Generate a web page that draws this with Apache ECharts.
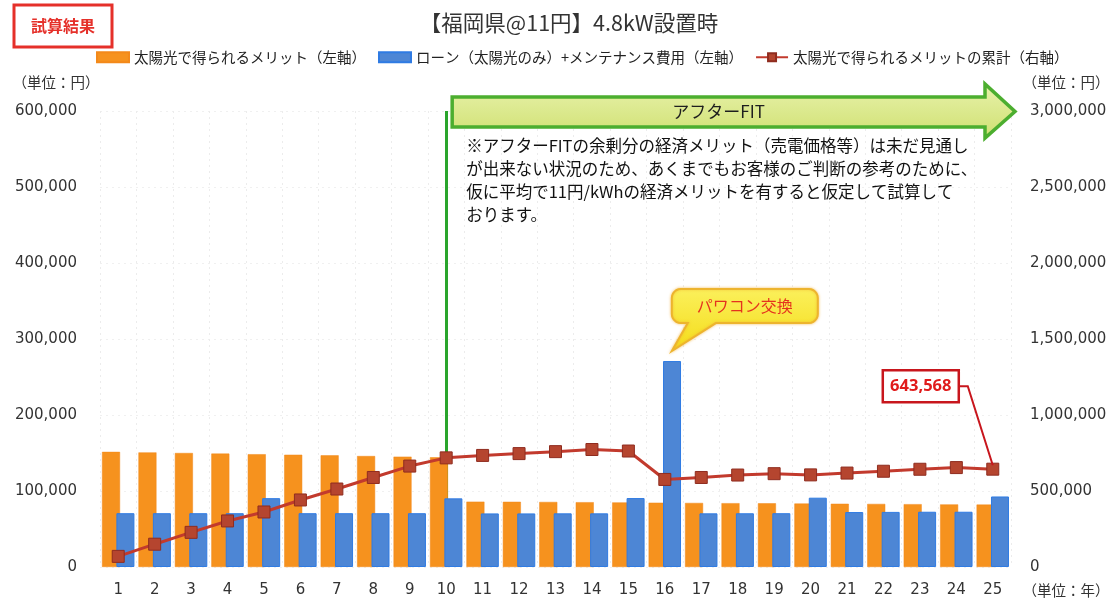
<!DOCTYPE html>
<html>
<head>
<meta charset="utf-8">
<script src="https://cdn.jsdelivr.net/npm/echarts@6/dist/echarts.min.js"></script>
<style>
  html, body { margin: 0; padding: 0; background: #ffffff; }
  #chart { width: 1110px; height: 598px; }
</style>
</head>
<body>
<div id="chart"></div>
<script>
// Year of operation (x axis)
const years = ['1','2','3','4','5','6','7','8','9','10','11','12','13','14','15','16','17','18','19','20','21','22','23','24','25'];

// Yearly benefit from solar power (left axis, yen)
const meritValues = [151500, 150800, 150000, 149200, 148400, 147700, 146900, 146000, 145200, 144400,
                     86000, 85800, 85600, 85300, 85000, 84600, 84300, 84000, 83800, 83500,
                     83200, 83000, 82700, 82400, 82100];

// Loan (solar only) + maintenance cost (left axis, yen)
const loanValues = [70800, 70800, 70800, 70800, 90600, 70800, 70800, 70800, 70800, 90300,
                    70500, 70500, 70600, 70600, 90700, 271000, 70600, 70700, 70800, 91200,
                    72300, 72500, 72700, 72700, 92800];

// Cumulative benefit (right axis, yen)
const cumulativeValues = [70000, 150000, 228000, 303000, 362000, 441000, 513000, 589000, 664000, 718000,
                          734000, 746000, 759000, 773000, 763000, 576000, 589000, 605000, 614000, 606000,
                          618000, 630000, 643000, 654000, 643568];

// Axis ranges
const leftAxisMax = 600000, leftAxisStep = 100000;
const rightAxisMax = 3000000, rightAxisStep = 500000;

// Year where the feed-in tariff ends, and year of the inverter replacement
const afterFitYear = '10';
const inverterYear = '16';

const NUM_FONT = "'DejaVu Sans', 'Noto Sans CJK JP', sans-serif";
const JP_FONT = "'Noto Sans CJK JP', 'DejaVu Sans', sans-serif";
const fmt = v => Number(v).toLocaleString('en-US');

const chart = echarts.init(document.getElementById('chart'), null, { renderer: 'canvas' });

const option = {
  animation: false,
  backgroundColor: '#ffffff',
  textStyle: { fontFamily: JP_FONT },
  grid: { left: 100, right: 99, top: 111, bottom: 30, containLabel: false },
  legend: {
    left: 96, top: 50, padding: 0,
    itemWidth: 32, itemHeight: 10, itemGap: 12,
    textStyle: { fontFamily: JP_FONT, fontSize: 14.5, color: '#222' },
    data: [
      { name: '太陽光で得られるメリット（左軸）', icon: 'rect' },
      { name: 'ローン（太陽光のみ）+メンテナンス費用（左軸）', icon: 'rect' },
      { name: '太陽光で得られるメリットの累計（右軸）' }
    ]
  },
  xAxis: {
    type: 'category',
    data: years,
    axisLine: { show: false },
    axisTick: { show: false },
    axisLabel: { fontFamily: NUM_FONT, fontSize: 15, color: '#333', margin: 16 },
    splitLine: { show: true, lineStyle: { color: '#ececec', type: [2, 4], width: 1 } }
  },
  yAxis: [
    {
      type: 'value', min: 0, max: leftAxisMax, interval: leftAxisStep,
      axisLine: { show: false }, axisTick: { show: false },
      axisLabel: { fontFamily: NUM_FONT, fontSize: 15, color: '#333', margin: 23, formatter: fmt },
      splitLine: { show: true, lineStyle: { color: '#f0f0f0', type: [2, 4], width: 1 } }
    },
    {
      type: 'value', min: 0, max: rightAxisMax, interval: rightAxisStep,
      axisLine: { show: false }, axisTick: { show: false },
      axisLabel: { fontFamily: NUM_FONT, fontSize: 15, color: '#333', margin: 19, formatter: fmt },
      splitLine: { show: false }
    }
  ],
  series: [
    {
      name: '太陽光で得られるメリット（左軸）',
      type: 'bar',
      yAxisIndex: 0,
      data: meritValues,
      barWidth: 18,
      barGap: '-20%',
      itemStyle: { color: '#F6921E', borderColor: '#F3891A', borderWidth: 0.5 }
    },
    {
      name: 'ローン（太陽光のみ）+メンテナンス費用（左軸）',
      type: 'bar',
      yAxisIndex: 0,
      data: loanValues,
      barWidth: 18,
      barGap: '-20%',
      itemStyle: { color: '#4D86D5', borderColor: '#2F7BE3', borderWidth: 1 }
    },
    {
      name: '太陽光で得られるメリットの累計（右軸）',
      type: 'line',
      yAxisIndex: 1,
      data: cumulativeValues,
      symbol: 'rect',
      symbolSize: 12,
      lineStyle: { color: '#C23A2D', width: 3 },
      itemStyle: { color: '#B5452F', borderColor: '#8F2C1F', borderWidth: 1 },
      z: 5,
      // start of the after-FIT period
      markLine: {
        silent: true,
        symbol: ['none', 'none'],
        label: { show: false },
        lineStyle: { color: '#2AA52C', width: 3, type: 'solid' },
        z: 1,
        data: [{ xAxis: afterFitYear }]
      }
    }
  ]
};

chart.setOption(option);

// ---- annotations placed from axis positions ----
const xOf = cat => chart.convertToPixel({ xAxisIndex: 0 }, cat);
const gridRight = 1110 - 99;

// After-FIT arrow
const arrowStart = xOf(afterFitYear) + 6;
const arrowTip = gridRight + 4;
const headBase = arrowTip - 30;
const bodyTop = 97, bodyBottom = 127, headTop = 84, headBottom = 138, midY = 111.5;

// Inverter replacement callout anchored above the bar
const invIdx = years.indexOf(inverterYear);
const invBarX = xOf(inverterYear) + 7;
const invBarTop = chart.convertToPixel({ yAxisIndex: 0 }, loanValues[invIdx]);
const tip = [invBarX, invBarTop - 10];

function calloutPoints(x, y, w, h, r, t1, t2, tipPt) {
  const pts = [];
  const arc = (cx, cy, a0, a1) => {
    for (let k = 0; k <= 6; k++) {
      const a = a0 + (a1 - a0) * k / 6;
      pts.push([cx + r * Math.cos(a), cy + r * Math.sin(a)]);
    }
  };
  arc(x + w - r, y + r, -Math.PI / 2, 0);
  arc(x + w - r, y + h - r, 0, Math.PI / 2);
  pts.push([t2, y + h]);
  pts.push(tipPt);
  pts.push([t1, y + h]);
  arc(x + r, y + h - r, Math.PI / 2, Math.PI);
  arc(x + r, y + r, Math.PI, Math.PI * 1.5);
  return pts;
}
const cbX = tip[0], cbY = tip[1] - 62, cbW = 146, cbH = 34;

// Final cumulative value label
const lastIdx = cumulativeValues.length - 1;
const lastPt = chart.convertToPixel({ seriesIndex: 2 }, [lastIdx, cumulativeValues[lastIdx]]);
const lbW = 76, lbH = 32;
const lbRight = lastPt[0] - 34, lbCy = lastPt[1] - 83;

chart.setOption({
  graphic: [
    // result badge
    { type: 'rect', shape: { x: 14, y: 5, width: 98, height: 42 },
      style: { fill: '#ffffff', stroke: '#E5302A', lineWidth: 3 } },
    { type: 'text', x: 63, y: 26,
      style: { text: '試算結果', fill: '#E5302A', font: `bold 16px ${JP_FONT}`, align: 'center', verticalAlign: 'middle' } },
    // title
    { type: 'text', x: 569, y: 23,
      style: { text: '【福岡県@11円】4.8kW設置時', fill: '#333', font: `21.5px ${JP_FONT}`, align: 'center', verticalAlign: 'middle' } },
    // unit labels
    { type: 'text', x: 56, y: 82,
      style: { text: '（単位：円）', fill: '#333', font: `14.5px ${JP_FONT}`, align: 'center', verticalAlign: 'middle' } },
    { type: 'text', x: 1066, y: 82,
      style: { text: '（単位：円）', fill: '#333', font: `14.5px ${JP_FONT}`, align: 'center', verticalAlign: 'middle' } },
    { type: 'text', x: 1066, y: 590,
      style: { text: '（単位：年）', fill: '#333', font: `14.5px ${JP_FONT}`, align: 'center', verticalAlign: 'middle' } },
    // after-FIT arrow
    { type: 'polygon', z: 20,
      shape: { points: [[arrowStart, bodyTop], [headBase, bodyTop], [headBase, headTop], [arrowTip, midY],
                        [headBase, headBottom], [headBase, bodyBottom], [arrowStart, bodyBottom]] },
      style: {
        fill: new echarts.graphic.LinearGradient(0, 0, 0, 1, [
          { offset: 0, color: '#E8F2AC' }, { offset: 1, color: '#CFE070' }
        ]),
        stroke: '#4CAE2F', lineWidth: 3.5, lineJoin: 'miter'
      } },
    { type: 'text', z: 21, x: (arrowStart + headBase) / 2, y: midY,
      style: { text: 'アフターFIT', fill: '#1e1e1e', font: `17px ${JP_FONT}`, align: 'center', verticalAlign: 'middle' } },
    // note under the arrow
    { type: 'text', z: 21, x: arrowStart + 14, y: 134,
      style: {
        text: '※アフターFITの余剰分の経済メリット（売電価格等）は未だ見通し\nが出来ない状況のため、あくまでもお客様のご判断の参考のために、\n仮に平均で11円/kWhの経済メリットを有すると仮定して試算して\nおります。',
        fill: '#111', font: `16.5px ${JP_FONT}`, lineHeight: 23, align: 'left', verticalAlign: 'top'
      } },
    // inverter replacement callout
    { type: 'polygon', z: 20,
      shape: { points: calloutPoints(cbX, cbY, cbW, cbH, 9, cbX + 16, cbX + 44, tip) },
      style: {
        fill: new echarts.graphic.LinearGradient(0, 0, 0, 1, [
          { offset: 0, color: '#FBF05C' }, { offset: 1, color: '#F4DC18' }
        ]),
        stroke: '#EDB42E', lineWidth: 2,
        shadowBlur: 3, shadowColor: 'rgba(240,170,40,0.6)'
      } },
    { type: 'text', z: 21, x: cbX + cbW / 2, y: cbY + cbH / 2,
      style: { text: 'パワコン交換', fill: '#E5321E', font: `16px ${JP_FONT}`, align: 'center', verticalAlign: 'middle' } },
    // final value label with leader line
    { type: 'polyline', z: 20,
      shape: { points: [[lbRight, lbCy], [lbRight + 9, lbCy], [lastPt[0], lastPt[1] - 4]] },
      style: { stroke: '#C8161D', lineWidth: 2, fill: null } },
    { type: 'rect', z: 20, shape: { x: lbRight - lbW, y: lbCy - lbH / 2, width: lbW, height: lbH },
      style: { fill: '#ffffff', stroke: '#C8161D', lineWidth: 2.5 } },
    { type: 'text', z: 21, x: lbRight - lbW / 2, y: lbCy,
      style: { text: fmt(cumulativeValues[lastIdx]), fill: '#E01B1B', font: `bold 16.5px 'Noto Sans', sans-serif`, align: 'center', verticalAlign: 'middle' } }
  ]
});
</script>
</body>
</html>
